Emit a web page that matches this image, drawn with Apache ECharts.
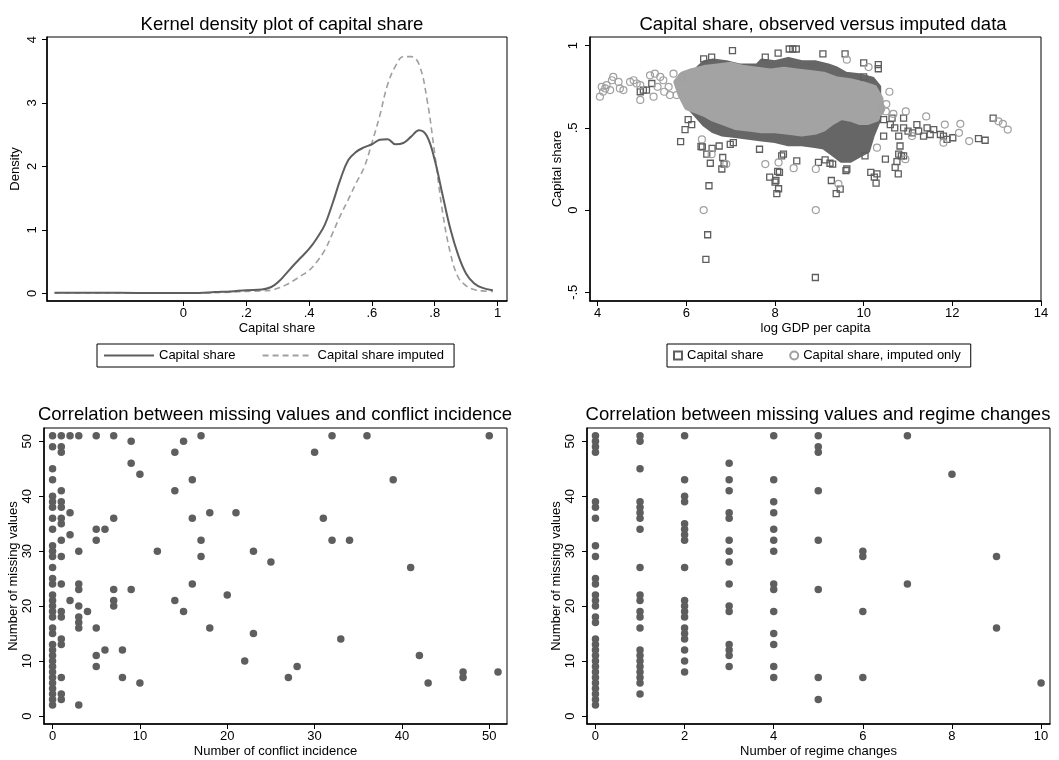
<!DOCTYPE html>
<html>
<head>
<meta charset="utf-8">
<script src="https://cdn.jsdelivr.net/npm/echarts@6/dist/echarts.min.js"></script>
<style>html,body{margin:0;padding:0;background:#fff;}#c{width:1059px;height:760px;}</style>
</head>
<body>
<div id="c"></div>
<script>
// ---------- Panel 1: kernel density ----------
const densX = [-0.41,-0.3,-0.2,-0.1,0,0.05,0.1,0.15,0.2,0.25,0.28,0.3,0.325,0.35,0.375,0.4,0.425,0.45,0.475,0.5,0.525,0.55,0.575,0.6,0.625,0.65,0.675,0.7,0.725,0.75,0.775,0.8,0.825,0.85,0.875,0.9,0.925,0.95,0.985];
const densObs = [0.01,0.01,0.01,0.005,0.005,0.005,0.02,0.03,0.05,0.06,0.1,0.17,0.3,0.44,0.57,0.7,0.87,1.08,1.42,1.8,2.1,2.23,2.3,2.35,2.42,2.43,2.35,2.37,2.47,2.57,2.48,2.1,1.55,1.01,0.6,0.31,0.16,0.09,0.05];
const densImp = [0.005,0.005,0.005,0.005,0.005,0.005,0.01,0.02,0.03,0.04,0.05,0.08,0.13,0.2,0.28,0.36,0.5,0.68,0.95,1.23,1.48,1.74,1.98,2.37,2.8,3.29,3.58,3.73,3.73,3.61,3.07,2.2,1.28,0.63,0.25,0.12,0.06,0.04,0.03];
const p1XTicks = [0,0.2,0.4,0.6,0.8,1];
const p1YTicks = [0,1,2,3,4];

// ---------- Panel 2: capital share vs log GDP ----------
const obsCloud = [[5.9,0.72],[6.0,0.8],[6.2,0.85],[6.4,0.9],[6.6,0.91],[6.9,0.9],[7.2,0.88],[7.6,0.88],[7.7,0.91],[8.0,0.9],[8.3,0.92],[8.6,0.9],[8.9,0.9],[9.2,0.88],[9.4,0.86],[9.6,0.83],[9.9,0.82],[10.2,0.8],[10.35,0.75],[10.35,0.55],[10.2,0.45],[10.1,0.36],[9.9,0.33],[9.7,0.3],[9.5,0.3],[9.3,0.34],[9.1,0.38],[8.9,0.39],[8.6,0.4],[8.3,0.4],[8.0,0.42],[7.7,0.43],[7.4,0.44],[7.1,0.45],[6.8,0.46],[6.6,0.48],[6.4,0.52],[6.2,0.58],[6.0,0.64]];
const impCloud = [[5.75,0.78],[5.9,0.83],[6.1,0.85],[6.4,0.87],[6.7,0.88],[7.0,0.89],[7.3,0.87],[7.6,0.86],[7.9,0.85],[8.2,0.86],[8.5,0.85],[8.8,0.84],[9.1,0.83],[9.4,0.8],[9.7,0.79],[10.0,0.77],[10.25,0.75],[10.4,0.68],[10.42,0.6],[10.3,0.55],[10.1,0.53],[9.9,0.53],[9.7,0.55],[9.5,0.56],[9.3,0.53],[9.1,0.49],[8.9,0.47],[8.6,0.46],[8.3,0.47],[8.0,0.48],[7.7,0.48],[7.4,0.49],[7.1,0.5],[6.8,0.53],[6.6,0.55],[6.4,0.58],[6.2,0.6],[6.0,0.62],[5.85,0.7]];
const obsOut = [[6.48,-0.15],[6.44,-0.30],[8.91,-0.41],[6.51,0.148],
[8.04,0.10],[8.08,0.13],[8.02,0.18],[8.10,0.23],[7.88,0.20],[8.06,0.235],[8.0,0.17],
[9.38,0.10],[9.47,0.127],[9.27,0.18],
[10.28,0.164],[10.24,0.20],[10.30,0.22],[10.16,0.23],
[10.78,0.22],[10.71,0.26],[10.75,0.295],[10.82,0.39],[10.90,0.33],[10.79,0.34],[10.85,0.33],[10.49,0.31],
[5.87,0.417],[5.97,0.49],[6.12,0.52],[6.04,0.55],
[6.33,0.387],[6.46,0.34],[6.54,0.285],[6.58,0.375],[6.82,0.32],[6.80,0.25],[6.85,0.28],[6.74,0.39],[6.99,0.40],[7.06,0.41],[6.36,0.385],
[7.65,0.37],[8.19,0.34],[8.15,0.33],[8.49,0.30],[8.98,0.29],[9.24,0.285],[9.13,0.306],[9.30,0.28],[9.60,0.24],[9.62,0.25],
[10.03,0.33],[10.0,0.895],[10.33,0.885],[10.33,0.86],[10.0,0.81],
[9.58,0.95],[9.08,0.95],[8.07,0.955],[7.04,0.97],[6.57,0.93],[6.39,0.92],[7.78,0.93],[8.32,0.98],[8.40,0.98],[8.48,0.98],
[4.96,0.72],[5.03,0.73],[5.10,0.73],[5.22,0.77],
[10.45,0.55],[10.64,0.56],[10.9,0.56],[10.45,0.45],[10.79,0.45],[10.9,0.50],[11.2,0.52],[11.24,0.48],[11.43,0.50],[11.5,0.46],[11.58,0.49],[11.35,0.45],[11.73,0.46],[11.8,0.45],[12.01,0.44],[11.88,0.43],[12.59,0.435],[12.74,0.425],[12.92,0.56],[10.6,0.52],[10.7,0.5],[11.0,0.48],[11.1,0.47]];
const impOut = [[6.39,0.0],[8.92,0.0],
[4.05,0.69],[4.09,0.75],[4.17,0.74],[4.28,0.73],[4.32,0.79],[4.47,0.78],[4.35,0.81],[4.58,0.73],[4.73,0.78],[4.81,0.79],[4.88,0.77],[4.96,0.67],[4.96,0.76],[5.18,0.82],[5.26,0.69],[5.29,0.83],[5.41,0.81],[5.48,0.79],[5.6,0.75],[5.71,0.83],[5.78,0.70],[5.63,0.70],[5.9,0.81],[4.5,0.74],[4.12,0.72],[4.2,0.76],[5.35,0.75],[5.5,0.72],
[7.78,0.28],[8.08,0.29],[8.42,0.255],[8.92,0.25],[9.43,0.16],[6.90,0.28],[6.57,0.34],[6.35,0.43],
[10.30,0.38],[10.94,0.31],
[10.58,0.72],[10.51,0.645],[10.67,0.585],[10.95,0.60],[11.41,0.57],[11.09,0.45],[11.83,0.52],[12.18,0.525],[12.15,0.47],[11.8,0.41],[12.38,0.42],[13.04,0.54],[13.14,0.525],[13.25,0.49],[9.62,0.915],[10.11,0.87],[10.4,0.62],[10.5,0.6]];
const p2XTicks = [4,6,8,10,12,14];
const p2YTicks = [-0.5,0,0.5,1];

// ---------- Panel 3: conflict incidence vs missing values ----------
const conflictX = [0,1,2,3,4,5,6,7,8,9,10,12,14,15,16,17,18,20,21,22,23,25,27,28,30,31,32,33,34,36,39,41,42,43,47,50,51];
const conflictMissing = [
 [51,49,45,43,40,39,38,36,34,31,30,29,27,25,24,22,21,20,19,18,16,15,13,12,11,10,9,8,7,6,5,4,3,2],
 [51,49,48,41,39,38,36,35,32,29,24,19,18,14,13,7,4,3],
 [51,37,33,21],
 [51,30,24,23,20,18,17,16,2],
 [19],
 [51,34,32,16,11,9],
 [34,12],
 [51,36,23,21,20],
 [12,7],
 [50,46,23],
 [44,6],
 [30],
 [48,41,21],
 [50,19],
 [43,36,24],
 [51,32,29],
 [37,16],
 [22],
 [37],
 [10],
 [30,15],
 [28],
 [7],
 [9],
 [48],
 [36],
 [51,32],
 [14],
 [32],
 [51],
 [43],
 [27],
 [11],
 [6],
 [8,7],
 [51],
 [8]
];
const p3XTicks = [0,10,20,30,40,50];
const p3YTicks = [0,10,20,30,40,50];

// ---------- Panel 4: regime changes vs missing values ----------
const regimeX = [0,1,2,3,4,5,6,7,8,9,10];
const regimeMissing = [
 [51,50,49,48,39,38,36,31,29,25,24,22,21,20,18,17,14,13,12,11,10,9,8,7,6,5,4,3,2],
 [51,50,45,39,38,37,36,34,27,22,21,19,18,16,12,11,10,9,8,7,6,4],
 [51,43,40,39,35,34,33,32,27,21,20,19,18,16,15,14,12,10,8],
 [46,43,41,37,36,32,30,28,24,20,19,13,12,11,9],
 [51,43,39,37,34,32,30,24,23,19,15,13,9,7],
 [51,49,48,41,32,23,7,3],
 [30,29,19,7],
 [51,24],
 [44],
 [29,16],
 [6]
];
const p4XTicks = [0,2,4,6,8,10];
const p4YTicks = [0,10,20,30,40,50];

// ---------- helpers ----------
const FONT = 'Liberation Sans, Arial, Helvetica, sans-serif';
const DARK = '#5e5e5e';
const LIGHT = '#a0a0a0';
function stata(v){
  let s = String(Math.round(v*1000)/1000);
  if (s.startsWith('0.')) s = s.slice(1);
  else if (s.startsWith('-0.')) s = '-' + s.slice(2);
  return s;
}
function pairs(xs, groups){
  const out = [];
  xs.forEach((x,i)=>groups[i].forEach(y=>out.push([x,y])));
  return out;
}
function xAx(idx, min, max, ticks, name, nameGap){
  return {
    type:'value', gridIndex:idx, min:min, max:max,
    name:name, nameLocation:'middle', nameGap:nameGap,
    nameTextStyle:{color:'#000', fontSize:13, fontFamily:FONT},
    axisLine:{show:true, onZero:false, lineStyle:{color:'#000', width:1.5}},
    axisTick:{show:true, length:5, customValues:ticks, lineStyle:{color:'#000', width:1}},
    axisLabel:{show:true, customValues:ticks, formatter:stata, color:'#000', fontSize:13, fontFamily:FONT, margin:6},
    splitLine:{show:false}
  };
}
function yAx(idx, min, max, ticks, name, nameGap, labMargin){
  return {
    type:'value', gridIndex:idx, min:min, max:max,
    name:name, nameLocation:'middle', nameGap:nameGap, nameRotate:90,
    nameTextStyle:{color:'#000', fontSize:13, fontFamily:FONT},
    axisLine:{show:true, onZero:false, lineStyle:{color:'#000', width:1.5}},
    axisTick:{show:true, length:5, customValues:ticks, lineStyle:{color:'#000', width:1}},
    axisLabel:{show:true, customValues:ticks, formatter:stata, rotate:90, color:'#000', fontSize:13, fontFamily:FONT, margin:labMargin},
    splitLine:{show:false}
  };
}
function polySeries(pts, color, xi, yi){
  return {
    type:'custom', xAxisIndex:xi, yAxisIndex:yi, silent:true, clip:true, z:1,
    data:[pts[0]],
    renderItem:function(params, api){
      const coords = pts.map(p=>api.coord(p));
      return {type:'polygon', shape:{points:coords}, style:{fill:color, stroke:color, lineWidth:4, lineJoin:'round'}};
    }
  };
}

const chart = echarts.init(document.getElementById('c'), null, {renderer:'canvas'});
const titleStyle = {color:'#000', fontSize:18.5, fontWeight:'normal', fontFamily:FONT};
chart.setOption({
  backgroundColor:'#fff',
  animation:false,
  title:[
    {text:'Kernel density plot of capital share', left:277, top:10, textAlign:'center', textStyle:titleStyle},
    {text:'Capital share, observed versus imputed data', left:818, top:10, textAlign:'center', textStyle:titleStyle},
    {text:'Correlation between missing values and conflict incidence', left:270, top:400, textAlign:'center', textStyle:titleStyle},
    {text:'Correlation between missing values and regime changes', left:813, top:400, textAlign:'center', textStyle:titleStyle}
  ],
  legend:[
    {data:['Capital share','Capital share imputed'], left:97, top:344, orient:'horizontal',
     borderColor:'#000', borderWidth:1, padding:[5,10,5,6], itemGap:26, itemWidth:50, itemHeight:10,
     itemStyle:{opacity:0},
     textStyle:{color:'#000', fontSize:13, fontFamily:FONT}, selectedMode:false},
    {data:['Capital share ','Capital share, imputed only'], left:667, top:344, orient:'horizontal',
     borderColor:'#000', borderWidth:1, padding:[5,10,5,6], itemGap:22, itemWidth:8, itemHeight:8,
     textStyle:{color:'#000', fontSize:13, fontFamily:FONT}, selectedMode:false}
  ],
  grid:[
    {left:47, top:37, width:460, height:264, show:true, borderColor:'#000', borderWidth:1, backgroundColor:'#fff'},
    {left:590, top:37, width:451, height:264, show:true, borderColor:'#000', borderWidth:1, backgroundColor:'#fff'},
    {left:44, top:428, width:463, height:296, show:true, borderColor:'#000', borderWidth:1, backgroundColor:'#fff'},
    {left:587, top:428, width:463, height:296, show:true, borderColor:'#000', borderWidth:1, backgroundColor:'#fff'}
  ],
  xAxis:[
    xAx(0, -0.434, 1.03, p1XTicks, 'Capital share', 21),
    xAx(1, 3.826, 14.0, p2XTicks, 'log GDP per capita', 21),
    xAx(2, -0.98, 52.03, p3XTicks, 'Number of conflict incidence', 21),
    xAx(3, -0.19, 10.2, p4XTicks, 'Number of regime changes', 21)
  ],
  yAxis:[
    yAx(0, -0.12, 4.04, p1YTicks, 'Density', 25, 8),
    yAx(1, -0.553, 1.053, p2YTicks, 'Capital share', 26, 10),
    yAx(2, -1.45, 52.4, p3YTicks, 'Number of missing values', 23, 10),
    yAx(3, -1.45, 52.4, p4YTicks, 'Number of missing values', 23, 10)
  ],
  series:[
    {name:'Capital share', type:'line', xAxisIndex:0, yAxisIndex:0, smooth:0.4, symbol:'none', showSymbol:false,
     data:densX.map((x,i)=>[x,densObs[i]]), lineStyle:{color:DARK, width:2}, itemStyle:{color:DARK}, z:3},
    {name:'Capital share imputed', type:'line', xAxisIndex:0, yAxisIndex:0, smooth:0.4, symbol:'none', showSymbol:false,
     data:densX.map((x,i)=>[x,densImp[i]]), lineStyle:{color:LIGHT, width:1.6, type:[6,4]}, itemStyle:{color:LIGHT}, z:2},

    polySeries(obsCloud, '#666666', 1, 1),
    {name:'Capital share ', type:'scatter', xAxisIndex:1, yAxisIndex:1, symbol:'rect', symbolSize:6,
     data:obsOut, itemStyle:{color:'rgba(255,255,255,0)', borderColor:DARK, borderWidth:1.3, opacity:1}, z:2},
    polySeries(impCloud, '#a3a3a3', 1, 1),
    {name:'Capital share, imputed only', type:'scatter', xAxisIndex:1, yAxisIndex:1, symbol:'circle', symbolSize:7,
     data:impOut, itemStyle:{color:'rgba(255,255,255,0)', borderColor:LIGHT, borderWidth:1.2, opacity:1}, z:3},

    {type:'scatter', xAxisIndex:2, yAxisIndex:2, symbol:'circle', symbolSize:7.5,
     data:pairs(conflictX, conflictMissing), itemStyle:{color:DARK, opacity:1}},
    {type:'scatter', xAxisIndex:3, yAxisIndex:3, symbol:'circle', symbolSize:7.5,
     data:pairs(regimeX, regimeMissing), itemStyle:{color:DARK, opacity:1}}
  ]
});
</script>
</body>
</html>
